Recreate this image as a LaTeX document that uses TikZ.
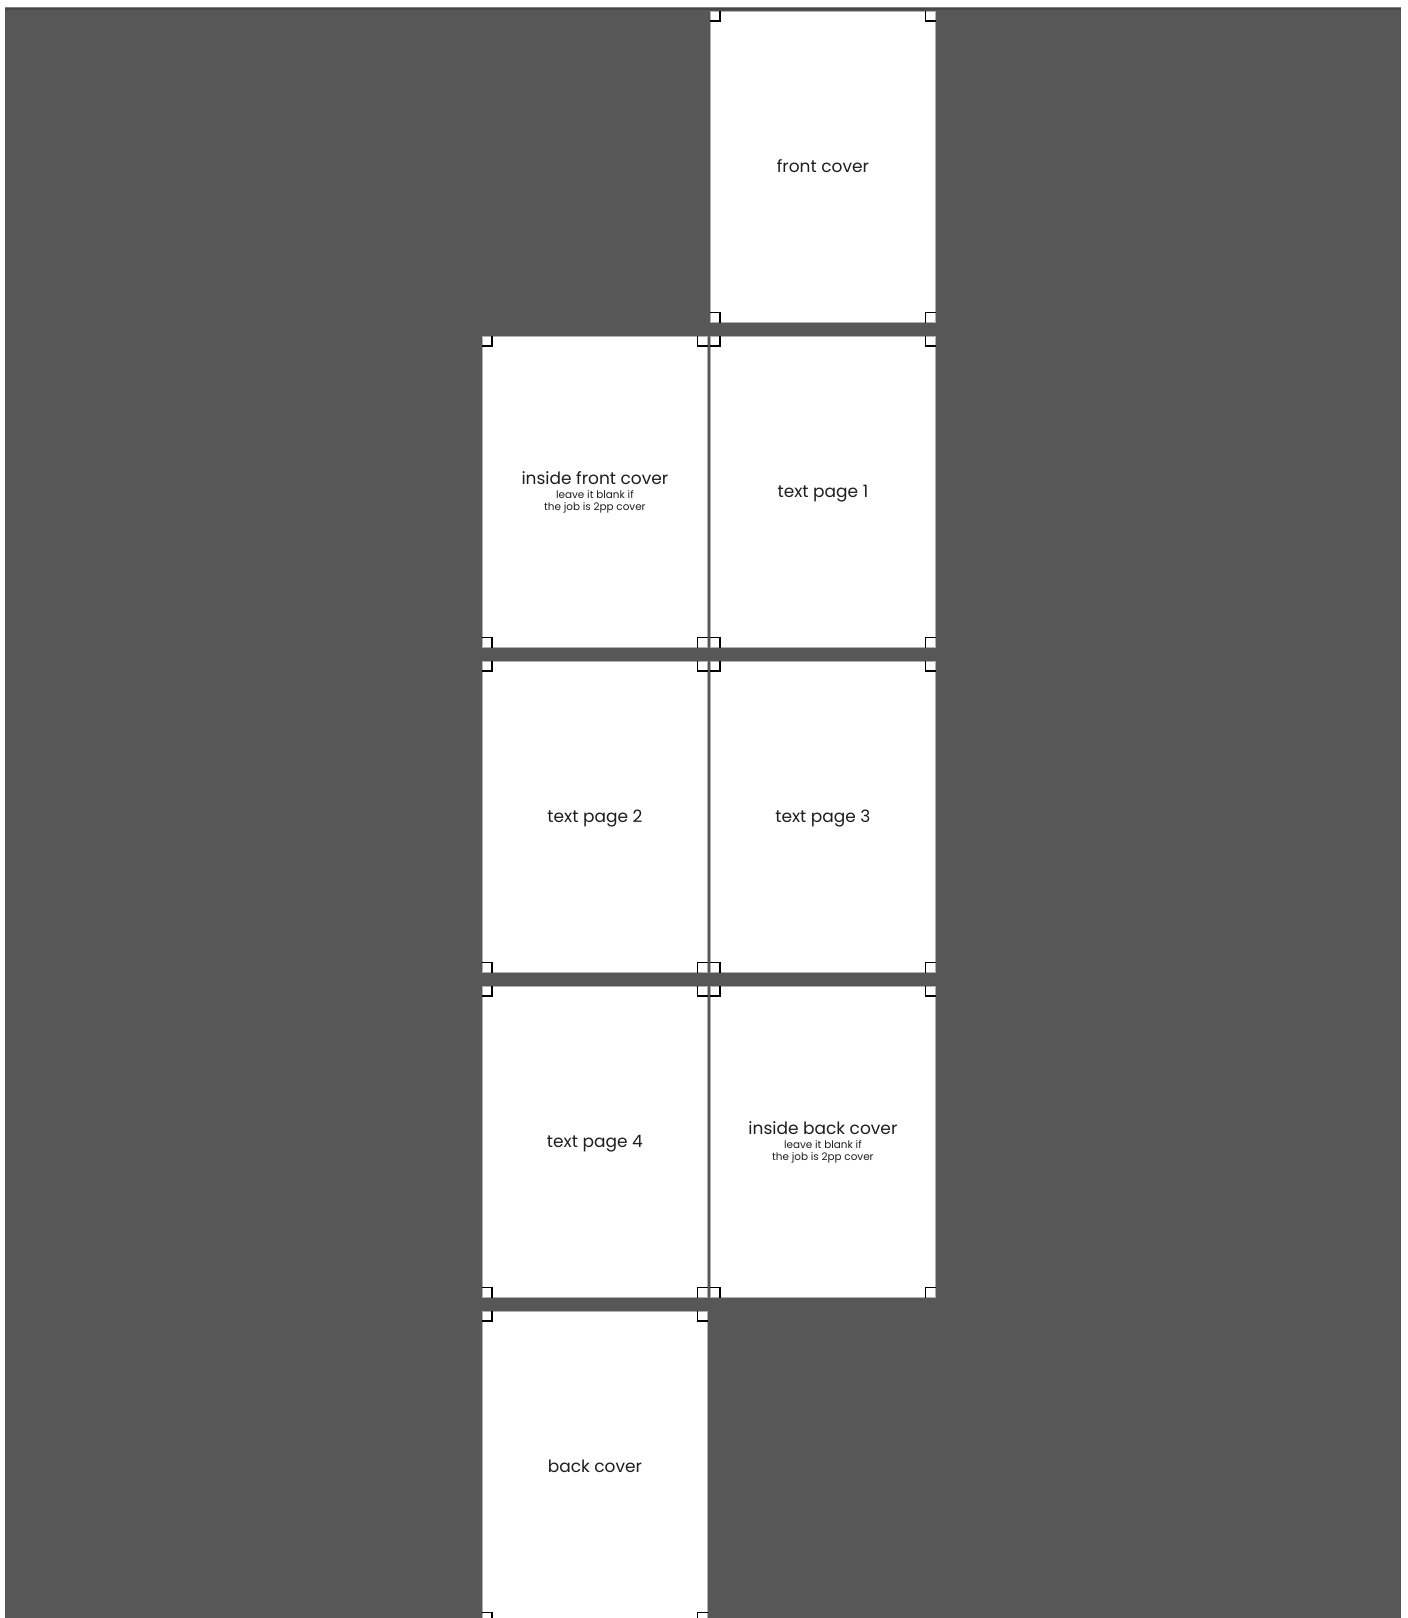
\documentclass[tikz,border=0pt]{standalone}
\usepackage{fontspec}
\setmainfont{Poppins}
\usetikzlibrary{calc}
\definecolor{bggray}{HTML}{575757}
\definecolor{edgegray}{HTML}{B0B0B0}
\definecolor{inkgray}{HTML}{1E1E1E}
\newcommand{\ttlfont}{\fontsize{17}{13.5}\selectfont}
\newcommand{\subfnt}{\fontsize{10.4}{11.5}\selectfont}
\begin{document}
\begin{tikzpicture}[x=1pt,y=-1pt,
  pagebox/.style={draw=edgegray,line width=0.8pt,fill=white,inner sep=0pt,
    minimum width=225pt,minimum height=311pt,anchor=north west,
    text=inkgray,align=center,font=\ttlfont},
  onelinetext/.style={text height=11pt,text depth=0pt},
  cropmark/.style={draw=black,line width=1.1pt}]
\useasboundingbox (0,0) rectangle (1408,1618);
\clip (0,0) rectangle (1408,1618);
\fill[bggray] (5,7) rectangle (1401,1618);
\draw[line width=1pt,draw=black!50] (5,7.5) -- (1401,7.5);
\draw[line width=1.5pt,draw=black!72] (5,9) -- (1401,9);
% pages
\node[pagebox,onelinetext] (fc)  at (710,11)   {front cover};
\node[pagebox] (ifc) at (482,336)  {inside front cover\\[1pt]{\subfnt leave it blank if}\\[-2pt]{\subfnt the job is 2pp cover}};
\node[pagebox,onelinetext] (tp1) at (710,336)  {text page 1};
\node[pagebox,onelinetext] (tp2) at (482,661)  {text page 2};
\node[pagebox,onelinetext] (tp3) at (710,661)  {text page 3};
\node[pagebox,onelinetext] (tp4) at (482,986)  {text page 4};
\node[pagebox] (ibc) at (710,986)  {inside back cover\\[1pt]{\subfnt leave it blank if}\\[-2pt]{\subfnt the job is 2pp cover}};
\node[pagebox,onelinetext] (bc)  at (482,1311) {back cover};
% crop marks
\foreach \n in {fc,ifc,tp1,tp2,tp3,tp4,ibc,bc}{
  \draw[cropmark] ($(\n.north west)+(0,10)$) -| ($(\n.north west)+(10,0)$);
  \draw[cropmark] ($(\n.north east)+(0,10)$) -| ($(\n.north east)+(-10,0)$);
  \draw[cropmark] ($(\n.south west)+(0,-10)$) -| ($(\n.south west)+(10,0)$);
  \draw[cropmark] ($(\n.south east)+(0,-10)$) -| ($(\n.south east)+(-10,0)$);
}
\end{tikzpicture}
\end{document}
